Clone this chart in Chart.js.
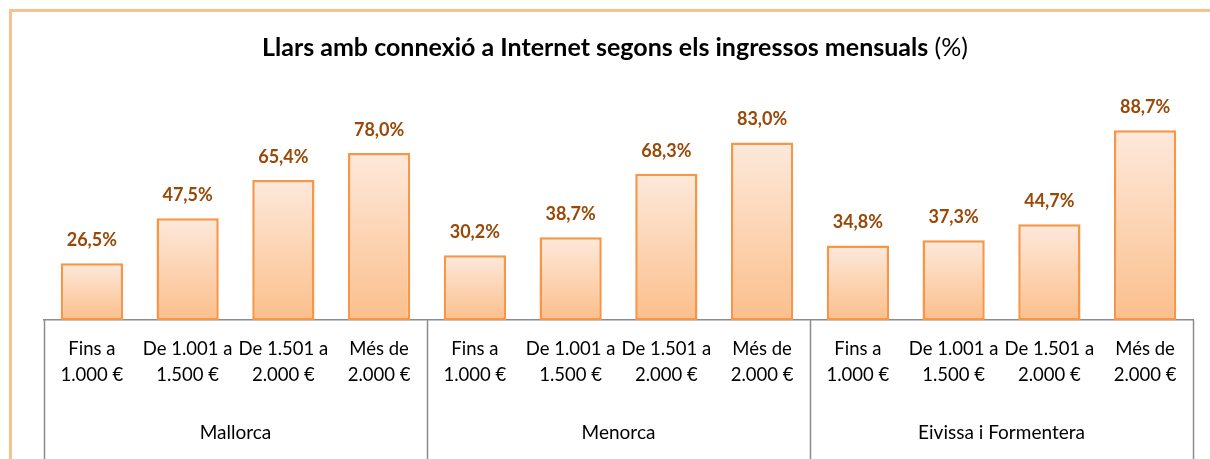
<!DOCTYPE html>
<html lang="ca">
<head>
  <meta charset="UTF-8" />
  <title>Llars amb connexió a Internet</title>
  <script src="https://cdn.jsdelivr.net/npm/chart.js"></script>
  <style>
    html, body { margin: 0; padding: 0; background: #fff; }
    canvas { display: block; }
  </style>
</head>
<body>
  <canvas id="chart" width="1210" height="459"></canvas>

  <script>
    // dades
    const groups = ['Mallorca', 'Menorca', 'Eivissa i Formentera'];
    const incomeBands = [['Fins a', '1.000 €'], ['De 1.001 a', '1.500 €'], ['De 1.501 a', '2.000 €'], ['Més de', '2.000 €']];
    const mallorca = [26.5, 47.5, 65.4, 78.0];
    const menorca = [30.2, 38.7, 68.3, 83.0];
    const eivissa = [34.8, 37.3, 44.7, 88.7];

    const labels = [];
    groups.forEach(() => incomeBands.forEach(b => labels.push(b)));
    const values = [...mallorca, ...menorca, ...eivissa];

    const FONT = 'Lato, "Open Sans", sans-serif';
    const fmt = v => v.toFixed(1).replace('.', ',') + '%';

    function barGradient(context) {
      const chart = context.chart;
      const { ctx, chartArea, scales } = chart;
      if (!chartArea || context.type !== 'data') return '#fcd5b4';
      const top = scales.y.getPixelForValue(context.raw);
      const base = scales.y.getPixelForValue(0);
      const g = ctx.createLinearGradient(0, top, 0, base);
      g.addColorStop(0, '#fde9db');
      g.addColorStop(1, '#fbbf8c');
      return g;
    }

    const decorations = {
      id: 'decorations',
      afterDraw(chart) {
        const { ctx, chartArea, scales } = chart;
        const x = scales.x;
        const step = (chartArea.right - chartArea.left) / labels.length;

        // marc exterior
        ctx.save();
        ctx.strokeStyle = '#fac090';
        ctx.lineWidth = 3;
        ctx.beginPath();
        ctx.moveTo(10.5, chart.height);
        ctx.lineTo(10.5, 10.5);
        ctx.lineTo(chart.width, 10.5);
        ctx.stroke();

        // títol
        const bold = 'Llars amb connexió a Internet segons els ingressos mensuals';
        const rest = ' (%)';
        ctx.fillStyle = '#000';
        ctx.textBaseline = 'middle';
        ctx.font = 'bold 25px ' + FONT;
        const w1 = ctx.measureText(bold).width;
        ctx.font = '25px ' + FONT;
        const w2 = ctx.measureText(rest).width;
        let tx = 615 - (w1 + w2) / 2;
        ctx.textAlign = 'left';
        ctx.font = 'bold 25px ' + FONT;
        ctx.fillText(bold, tx, 48);
        ctx.font = '25px ' + FONT;
        ctx.fillText(rest, tx + w1, 48);

        // separadors de grups
        ctx.strokeStyle = '#8c8c8c';
        ctx.lineWidth = 1.5;
        for (let i = 0; i <= groups.length; i++) {
          const px = Math.round(chartArea.left + i * 4 * step) + 0.5;
          ctx.beginPath();
          ctx.moveTo(px, chartArea.bottom);
          ctx.lineTo(px, chart.height);
          ctx.stroke();
        }

        // noms de grups
        ctx.fillStyle = '#000';
        ctx.textAlign = 'center';
        ctx.font = '19px ' + FONT;
        groups.forEach((g, i) => {
          const cx = (x.getPixelForValue(i * 4) + x.getPixelForValue(i * 4 + 3)) / 2;
          ctx.fillText(g, cx, 433);
        });

        // etiquetes de valors
        ctx.fillStyle = '#984807';
        ctx.font = 'bold 18px ' + FONT;
        chart.getDatasetMeta(0).data.forEach((bar, i) => {
          ctx.fillText(fmt(values[i]), bar.x, bar.y - 23);
        });
        ctx.restore();
      }
    };

    new Chart(document.getElementById('chart'), {
      type: 'bar',
      data: {
        labels: labels,
        datasets: [{
          data: values,
          backgroundColor: barGradient,
          borderColor: '#f79646',
          borderWidth: 2.5,
          borderSkipped: false,
          barPercentage: 0.65,
          categoryPercentage: 1
        }]
      },
      options: {
        responsive: false,
        devicePixelRatio: 1,
        animation: false,
        layout: { padding: { left: 44, right: 17, top: 106, bottom: 0 } },
        plugins: {
          legend: { display: false },
          title: { display: false },
          tooltip: { enabled: false }
        },
        scales: {
          y: { display: false, min: 0, max: 100 },
          x: {
            afterFit(scale) { scale.height = 139; },
            grid: { display: false, drawTicks: false },
            border: { display: true, color: '#8c8c8c', width: 1.5 },
            ticks: {
              autoSkip: false,
              maxRotation: 0,
              padding: 16,
              color: '#000',
              font: { family: FONT, size: 18.5, lineHeight: 1.42 }
            }
          }
        }
      },
      plugins: [decorations]
    });
  </script>
</body>
</html>
